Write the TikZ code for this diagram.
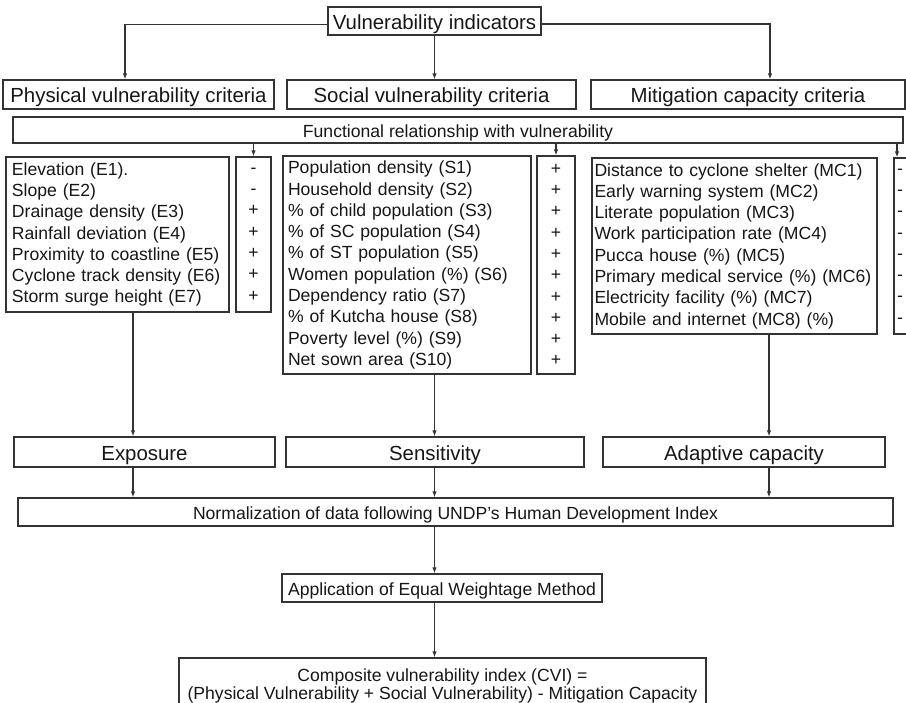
\documentclass[tikz,border=0pt]{standalone}
\usepackage{fontspec}
\setmainfont{Liberation Sans}
\usetikzlibrary{arrows.meta}
\definecolor{linec}{HTML}{333333}
\definecolor{txtc}{HTML}{161616}
\begin{document}
\begin{tikzpicture}[x=1pt,y=-1pt,
  bx/.style={draw=linec, line width=1.25pt, inner sep=0pt, text=txtc, align=center},
  big/.style={font=\fontsize{20.4}{24}\selectfont, text height=16.2pt, text depth=0pt},
  sml/.style={font=\fontsize{17.6}{21.3}\selectfont},
  smlone/.style={sml, text height=14.2pt, text depth=0pt},
  lst/.style={bx, sml, align=left, anchor=center},
  arr/.style={draw=linec, line width=1.25pt, -{Latex[length=6pt,width=4.5pt]}}]
\useasboundingbox (0,0) rectangle (906,703);
% column x coordinates
\coordinate (xa) at (133,0);
\coordinate (xb) at (434.5,0);
\coordinate (xc) at (769,0);
% top
\node[bx,big,minimum width=213pt,minimum height=28pt] (top) at (434.5,21) {Vulnerability indicators};
% criteria
\node[bx,big,minimum width=271pt,minimum height=29pt] (phys) at (138.5,94.5) {Physical vulnerability criteria};
\node[bx,big,minimum width=289pt,minimum height=29pt] (soc) at (431.5,94.5) {Social vulnerability criteria};
\node[bx,big,minimum width=314pt,minimum height=29pt] (mit) at (748,94.5) {Mitigation capacity criteria};
% functional relationship
\node[bx,smlone,minimum width=890pt,minimum height=26pt] (func) at (458,130) {Functional relationship with vulnerability};
% lists
\node[lst,inner xsep=6pt,text width=211pt,minimum height=155pt] (plist) at (117.5,234.5) {Elevation (E1).\\Slope (E2)\\Drainage density (E3)\\Rainfall deviation (E4)\\Proximity to coastline (E5)\\Cyclone track density (E6)\\Storm surge height (E7)};
\node[bx,sml,minimum width=35pt,minimum height=155pt] (psign) at (253.5,234.5) {-\\-\\+\\+\\+\\+\\+};
\node[lst,inner xsep=5pt,text width=238pt,minimum height=218pt] (slist) at (407,265) {Population density (S1)\\Household density (S2)\\\% of child population (S3)\\\% of SC population (S4)\\\% of ST population (S5)\\Women population (\%) (S6)\\Dependency ratio (S7)\\\% of Kutcha house (S8)\\Poverty level (\%) (S9)\\Net sown area (S10)};
\node[bx,sml,minimum width=38pt,minimum height=218pt] (ssign) at (556,265) {+\\+\\+\\+\\+\\+\\+\\+\\+\\+};
\node[lst,inner xsep=2.5pt,text width=280pt,minimum height=176pt] (mlist) at (734.5,246) {Distance to cyclone shelter (MC1)\\Early warning system (MC2)\\Literate population (MC3)\\Work participation rate (MC4)\\Pucca house (\%) (MC5)\\Primary medical service (\%) (MC6)\\Electricity facility (\%) (MC7)\\Mobile and internet (MC8) (\%)};
\node[bx,sml,align=left,text width=33pt,minimum height=176pt] (msign) at (910.5,246) {\hspace*{3pt}-\\\hspace*{3pt}-\\\hspace*{3pt}-\\\hspace*{3pt}-\\\hspace*{3pt}-\\\hspace*{3pt}-\\\hspace*{3pt}-\\\hspace*{3pt}-};
% components
\node[bx,big,minimum width=261pt,minimum height=30pt] (exp) at (144.5,452) {Exposure};
\node[bx,big,minimum width=298pt,minimum height=30pt] (sens) at (435,452) {Sensitivity};
\node[bx,big,minimum width=282pt,minimum height=30pt] (adapt) at (744,452) {Adaptive capacity};
% normalization etc.
\node[bx,smlone,minimum width=875pt,minimum height=28pt] (norm) at (455.5,512) {Normalization of data following UNDP’s Human Development Index};
\node[bx,smlone,minimum width=320pt,minimum height=28pt] (app) at (442,588) {Application of Equal Weightage Method};
\node[bx,font=\fontsize{17.6}{18.5}\selectfont,minimum width=527pt,minimum height=56pt] (cvi) at (442.5,686) {Composite vulnerability index (CVI) =\\(Physical Vulnerability + Social Vulnerability) - Mitigation Capacity};
% connectors
\draw[arr] ([yshift=-3.5pt]top.west) -| ([xshift=-13.5pt]phys.north);
\draw[arr] (top.south) -- (top.south |- soc.north);
\draw[arr] ([yshift=-3pt]top.east) -| ([xshift=22pt]mit.north);
\draw[arr] (psign.north |- func.south) -- (psign.north);
\draw[arr] (ssign.north |- func.south) -- (ssign.north);
\draw[arr] ([xshift=-13.5pt]msign.north |- func.south) -- ([xshift=-13.5pt]msign.north);
\draw[arr] (plist.south -| xa) -- (exp.north -| xa);
\draw[arr] (slist.south -| xb) -- (sens.north -| xb);
\draw[arr] (mlist.south -| xc) -- (adapt.north -| xc);
\draw[arr] (exp.south -| xa) -- (norm.north -| xa);
\draw[arr] (sens.south -| xb) -- (norm.north -| xb);
\draw[arr] (adapt.south -| xc) -- (norm.north -| xc);
\draw[arr] (norm.south -| xb) -- (app.north -| xb);
\draw[arr] (app.south -| xb) -- (cvi.north -| xb);
\end{tikzpicture}
\end{document}
